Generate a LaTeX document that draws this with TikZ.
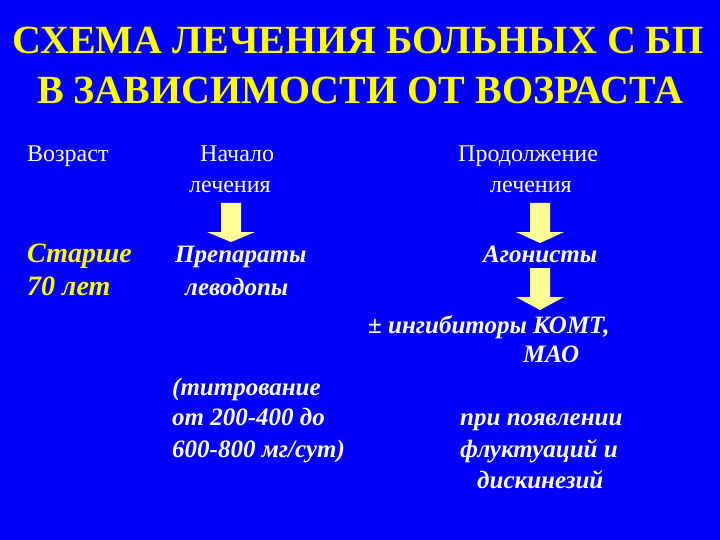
\documentclass[tikz,border=0pt]{standalone}
\usepackage{fontspec}
\setmainfont{Liberation Serif}
\usetikzlibrary{positioning}
\definecolor{Slide}{RGB}{0,0,250}
\definecolor{Gold}{RGB}{255,255,0}
\definecolor{Pale}{RGB}{255,255,150}
\newcommand{\DownArrow}[4]{% x top headstart tip
\fill[Pale] (#1-10,#2) -- (#1+10,#2) -- (#1+10,#3) -- (#1+24,#3)
  -- (#1,#4) -- (#1-24,#3) -- (#1-10,#3) -- cycle;
}
\tikzset{
  head/.style={anchor=base,inner sep=0pt,text=Gold,
    font=\bfseries\fontsize{40}{46}\selectfont},
  plain/.style={anchor=base west,inner sep=0pt,text=white,
    font=\fontsize{24}{28}\selectfont},
  drug/.style={anchor=base west,inner sep=0pt,text=white,
    font=\bfseries\itshape\fontsize{25}{30}\selectfont},
  agegroup/.style={drug,text=Gold,
    font=\bfseries\itshape\fontsize{28}{32}\selectfont},
}
\begin{document}
\begin{tikzpicture}[x=1pt,y=-1pt]
\fill[Slide] (0,0) rectangle (720,540);
\useasboundingbox (0,0) rectangle (720,540);
% title
\node[head] (title1) at (358,54) {СХЕМА ЛЕЧЕНИЯ БОЛЬНЫХ С БП};
\node[head] (title2) at (360,104) {В ЗАВИСИМОСТИ ОТ ВОЗРАСТА};
% column heads
\node[plain] (age) at (27,162) {Возраст};
\node[plain] (start1) at (200,162) {Начало};
\node[plain] (start2) at (189,193) {лечения};
\node[plain] (cont1) at (458,162) {Продолжение};
\node[plain] (cont2) at (490,193) {лечения};
% age group
\node[agegroup] (old1) at (27,262) {Старше};
\node[agegroup] (old2) at (27,295) {70 лет};
% first line
\node[drug] (levo1) at (175,262) {Препараты};
\node[drug] (levo2) at (185,295) {леводопы};
\node[drug] (titr1) at (172,395) {(титрование};
\node[drug] (titr2) at (172,425) {от 200-400 до};
\node[drug] (titr3) at (172,457) {600-800 мг/сут)};
% continuation
\node[drug] (agon) at (483,262) {Агонисты};
\node[drug] (inhib1) at (368,333) {± ингибиторы КОМТ,};
\node[drug] (inhib2) at (523,362) {МАО};
\node[drug] (when1) at (460,425) {при появлении};
\node[drug] (when2) at (460,457) {флуктуаций и};
\node[drug] (when3) at (477,488) {дискинезий};
% arrows
\DownArrow{231}{203}{232}{242}
\DownArrow{540}{203}{232}{243}
\DownArrow{540}{268}{297}{310}
\end{tikzpicture}
\end{document}
